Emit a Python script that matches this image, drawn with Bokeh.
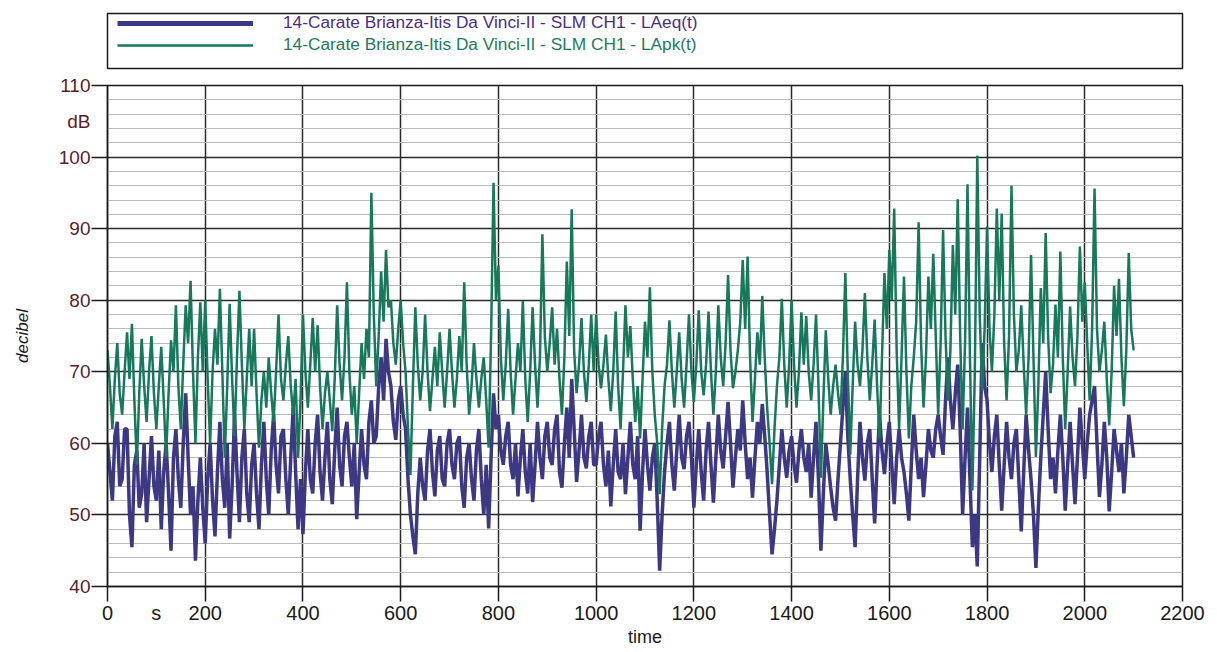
from bokeh.plotting import figure
from bokeh.models import FixedTicker, Legend, LegendItem, Range1d, LinearAxis
from bokeh.layouts import column
from bokeh.embed import file_html
from bokeh.resources import INLINE

# ---------------- data (5 s steps) ----------------
laeq = [
    60, 56, 52, 61, 63, 54, 55, 62, 62, 50, 45.5, 57, 59, 51, 53, 60, 49, 55, 61, 54,
    52, 59, 48, 56, 60, 53, 45, 58, 62, 55, 51, 60, 67, 58, 50, 54, 43.6, 52, 58, 51,
    46, 55, 60, 52, 47, 56, 63, 55, 51, 60, 46.7, 54, 64, 56, 49, 58, 62, 53, 49, 57,
    60, 53, 48, 57, 63, 55, 50, 59, 64, 57, 53, 61, 62, 55, 50, 58, 65, 56, 48, 55,
    47.3, 56, 62, 55, 53, 60, 64, 56, 52, 58, 63, 55, 51.5, 59, 65, 57, 54, 61, 63, 58,
    54, 60, 49.4, 56, 62, 57, 55, 63, 66, 60, 61, 68, 72, 66, 74.6, 70, 68, 63, 60.5, 66,
    68, 64, 62, 55, 50, 47, 44.5, 53, 58, 54, 52, 59, 62, 56, 52.6, 59, 61, 55, 54, 60,
    62, 57, 55, 60, 61, 54, 51, 58, 60, 55, 52, 59, 62, 55, 50, 57, 48.1, 58, 67, 62,
    64, 59, 57, 61, 63, 57, 55, 60, 52.6, 58, 62, 56, 53, 60, 51.8, 57, 63, 58, 55, 61,
    63, 58, 57, 62, 64, 56, 53.8, 60, 65, 58, 69, 62, 54.6, 59, 64, 58, 56.5, 61, 63, 57,
    57, 61, 63, 57, 54, 59, 51.2, 57, 62, 56, 55, 60, 52.9, 58, 63, 57, 55, 61, 47.8, 56,
    62, 57, 53.4, 58, 60, 52, 42.2, 50, 56, 60, 63, 57, 53.4, 59, 64, 58, 56.4, 61, 63, 58,
    51, 57, 62, 56, 52, 59, 63, 57, 51.7, 58, 64, 59, 56.5, 61, 65.8, 60, 53.8, 58, 62, 59,
    66, 60, 55, 58, 52.4, 58, 63, 60, 65.5, 61, 56, 50, 44.5, 48, 52, 57, 62, 58, 55.2, 59,
    61, 57, 54.5, 59, 62, 58, 56, 60, 52.4, 58, 63, 55, 45, 53, 60, 57, 53.8, 51, 49.2, 55,
    60, 65, 70, 61, 55, 50, 45.5, 55, 63, 58, 54.8, 60, 62, 55, 48.8, 57, 64, 59, 55.7, 60,
    63, 57, 51.5, 58, 62, 58, 56, 53, 49.2, 57, 64, 59, 55, 58, 52.5, 57, 62, 59, 58, 62,
    64, 61, 58.4, 66, 72, 66, 62, 67, 71, 62, 50, 58, 65, 55, 45.5, 50, 42.8, 58, 74, 68,
    66, 60, 56, 61, 64, 57, 50.6, 57, 63, 58, 55, 60, 62, 55, 47.7, 56, 64, 59, 55, 50,
    42.6, 51, 58, 64, 70, 62, 55, 58, 53, 59, 64, 58, 50.6, 57, 63, 57, 51.5, 58, 65, 60,
    55, 60, 64, 66, 68, 60, 52.5, 57, 63, 58, 50.5, 56, 62, 59, 56, 60, 53, 58, 64, 61, 58,
]

lapk = [
    73, 68, 62, 69, 74, 67, 64, 70, 75.5, 69, 76.7, 66, 57, 67, 74.6, 68, 63, 70, 75, 67,
    62, 68, 73.5, 66, 58, 67, 74.4, 70, 79.3, 68, 62, 71, 79.3, 74, 82.7, 70, 60, 72, 79.7, 70,
    80, 69, 60, 70, 76, 71, 81.6, 70, 58, 68, 79.5, 69, 61, 72, 81.3, 71, 62, 69, 76, 68,
    76, 67, 59.4, 66, 70, 65, 72, 67, 63, 70, 78, 69, 66, 71, 75, 68, 64, 69, 58, 66,
    78, 70, 65, 71, 77.5, 70, 76.5, 68, 62, 67, 70, 66, 61.7, 69, 79.3, 71, 66, 72, 82.5, 70,
    64, 68, 60, 67, 74, 69, 76, 72, 95, 78, 68, 75, 84, 77, 87, 79, 80, 74, 71, 76,
    80, 74, 70, 62, 55.6, 68, 79, 71, 66, 70, 78, 70, 64.5, 69, 73.5, 68, 75.5, 70, 65, 70,
    76, 70, 65, 69, 75, 70, 82.5, 71, 64, 68, 74, 69, 65, 69, 72, 66, 59.4, 75, 96.4, 80,
    84.8, 72, 66, 71, 78.8, 70, 64, 69, 74, 70, 79.9, 69, 63, 70, 79, 71, 65, 72, 89.2, 75,
    70, 74, 79, 71, 76, 69, 64, 72, 85.4, 75, 92.7, 73, 67, 71, 77.5, 70, 65.8, 71, 78, 70,
    78, 71, 67.7, 71, 75.2, 69, 64.5, 70, 78.4, 68, 62, 70, 79.3, 72, 76.4, 69, 63, 68, 60.7, 69,
    77, 72, 81.8, 70, 64, 60, 52.9, 62, 68, 71, 77.2, 70, 65, 70, 75.5, 69, 65, 71, 78, 70,
    65.8, 71, 78.6, 70, 66.7, 71, 78.4, 70, 64, 70, 79.3, 72, 68, 74, 83.5, 73, 67.7, 70, 73, 77,
    85.6, 76, 86.1, 72, 63, 69, 75.5, 71, 80.6, 72, 65, 60, 54.3, 62, 68, 72, 80.2, 71, 65, 71,
    80, 71, 65, 70, 78.3, 71, 77.8, 70, 66, 71, 78, 68, 55.2, 66, 75.8, 69, 64, 68, 71, 67,
    64, 72, 83.8, 70, 58.4, 68, 77, 71, 68, 73, 81, 72, 66, 71, 77.3, 68, 60.7, 72, 83.8, 76,
    87, 80, 92.8, 73, 62, 72, 83.3, 70, 60.7, 68, 72, 77, 90.9, 74, 65, 72, 83.3, 76, 86.5, 75,
    64, 74, 89.8, 75, 66, 73, 87.7, 78, 94.1, 75, 62, 74, 96.2, 72, 53.4, 70, 100.2, 78, 67.4, 76,
    90.3, 76, 70, 78, 92.8, 80, 92.1, 74, 66, 75, 96, 78, 70, 73, 79.3, 71, 64, 72, 86.3, 72,
    58.1, 68, 81.7, 74, 89.4, 75, 67, 71, 79.4, 72, 86.8, 72, 62, 70, 79.1, 72, 68, 75, 87.5, 77,
    82.5, 74, 66, 76, 95.6, 76, 70, 73, 77, 69, 62.5, 70, 82, 75, 83, 72, 65.2, 73, 86.6, 76, 73,
]

time_eq = [5 * i for i in range(len(laeq))]
time_pk = [5 * i for i in range(len(lapk))]

series_labels = [
    "14-Carate Brianza-Itis Da Vinci-II - SLM CH1 - LAeq(t)",
    "14-Carate Brianza-Itis Da Vinci-II - SLM CH1 - LApk(t)",
]
x_ticks = [0, 200, 400, 600, 800, 1000, 1200, 1400, 1600, 1800, 2000, 2200]
y_ticks = [40, 50, 60, 70, 80, 90, 100, 110]
y_minor = [40 + 2 * i for i in range(36)]
x_unit, x_unit_pos = "s", 100
y_unit, y_unit_pos = "dB", 105

# ---------------- styling ----------------
PURPLE = "#3d3884"
GREEN = "#16795a"
PURPLE_TXT = "#4b2f7f"
GREEN_TXT = "#1f7a5e"
MAROON = "#5a1e2c"
INK = "#1a1a1a"
FONT = "Liberation Sans"
W = 1212
LEFT, RIGHT = 107, 30

# ---------------- legend strip (box above the chart) ----------------
pl = figure(width=W, height=72, x_range=Range1d(0, 1), y_range=Range1d(0, 1),
            x_axis_type=None, y_axis_type=None,
            output_backend="svg", toolbar_location=None,
            min_border_left=LEFT, min_border_right=RIGHT,
            min_border_top=13, min_border_bottom=4)
pl.outline_line_color = INK
pl.outline_line_width = 1.5
pl.background_fill_color = "white"
pl.border_fill_color = "white"

# legend proxies (their points lie outside the strip's visible range)
leg_a = pl.line([2, 3], [2, 3], line_color=PURPLE, line_width=5)
leg_b = pl.line([2, 3], [2, 3], line_color=GREEN, line_width=2.5)

common = dict(margin=0, padding=0, spacing=0, glyph_width=136, glyph_height=20,
              label_height=20, label_standoff=30, border_line_alpha=0.0,
              background_fill_alpha=0.0, label_text_font=FONT,
              label_text_font_size="17.3px")
pl.add_layout(Legend(items=[LegendItem(label=series_labels[0], renderers=[leg_a])],
                     location=(10, 35), label_text_color=PURPLE_TXT, **common))
pl.add_layout(Legend(items=[LegendItem(label=series_labels[1], renderers=[leg_b])],
                     location=(10, 13), label_text_color=GREEN_TXT, **common))

# ---------------- main chart ----------------
p = figure(width=W, height=577,
           x_range=Range1d(0, 2200), y_range=Range1d(40, 110),
           output_backend="svg", toolbar_location=None,
           min_border_left=LEFT, min_border_right=RIGHT,
           min_border_top=13, min_border_bottom=63)
p.background_fill_color = "white"
p.border_fill_color = "white"
p.outline_line_color = INK
p.outline_line_width = 1.5

# inner axes: tick marks only
p.xaxis.ticker = FixedTicker(ticks=x_ticks)
p.yaxis.ticker = FixedTicker(ticks=y_ticks, minor_ticks=y_minor)
for ax in (p.xaxis, p.yaxis):
    ax.axis_line_color = INK
    ax.axis_line_width = 1.5
    ax.major_tick_line_color = INK
    ax.major_tick_line_width = 1.5
    ax.major_tick_in = 0
    ax.minor_tick_in = 0
    ax.minor_tick_out = 0
    ax.major_label_text_font_size = "0px"
    ax.major_label_standoff = 0
p.xaxis.major_tick_out = 15
p.yaxis.major_tick_out = 16
p.xaxis.major_label_overrides = {t: "" for t in x_ticks}
p.yaxis.major_label_overrides = {t: "" for t in y_ticks}

# outer axes: labels (incl. unit marks "s" and "dB")
xlab = LinearAxis(ticker=FixedTicker(ticks=x_ticks + [x_unit_pos]),
                  major_label_overrides={x_unit_pos: x_unit})
ylab = LinearAxis(ticker=FixedTicker(ticks=y_ticks + [y_unit_pos]),
                  major_label_overrides={y_unit_pos: y_unit})
for ax in (xlab, ylab):
    ax.axis_line_color = None
    ax.major_tick_line_color = None
    ax.minor_tick_line_color = None
    ax.major_tick_out = 0
    ax.major_tick_in = 0
    ax.minor_tick_out = 0
    ax.minor_tick_in = 0
    ax.major_label_text_font = FONT
    ax.axis_label_text_font = FONT
    ax.axis_label_text_color = INK
xlab.major_label_text_font_size = "20px"
xlab.major_label_text_color = INK
xlab.major_label_standoff = 0
xlab.axis_label = "time"
xlab.axis_label_text_font_size = "18px"
xlab.axis_label_text_font_style = "normal"
xlab.axis_label_standoff = 0

ylab.major_label_text_font_size = "19px"
ylab.major_label_text_color = MAROON
ylab.major_label_standoff = 1
ylab.axis_label = "decibel"
ylab.axis_label_text_font_size = "17px"
ylab.axis_label_text_font_style = "italic"
ylab.axis_label_standoff = 24
p.add_layout(xlab, "below")
p.add_layout(ylab, "left")

# grids
p.xgrid.grid_line_color = "#2b2b2b"
p.xgrid.grid_line_width = 1.5
p.ygrid.grid_line_color = "#2b2b2b"
p.ygrid.grid_line_width = 1.5
p.ygrid.minor_grid_line_color = "#bcbcbc"
p.ygrid.minor_grid_line_width = 1

# series
p.line(time_eq, laeq, line_color=PURPLE, line_width=3.5)
p.line(time_pk, lapk, line_color=GREEN, line_width=2.5)

layout = column(pl, p, spacing=0)
open("out.html", "w").write(file_html(layout, INLINE))
